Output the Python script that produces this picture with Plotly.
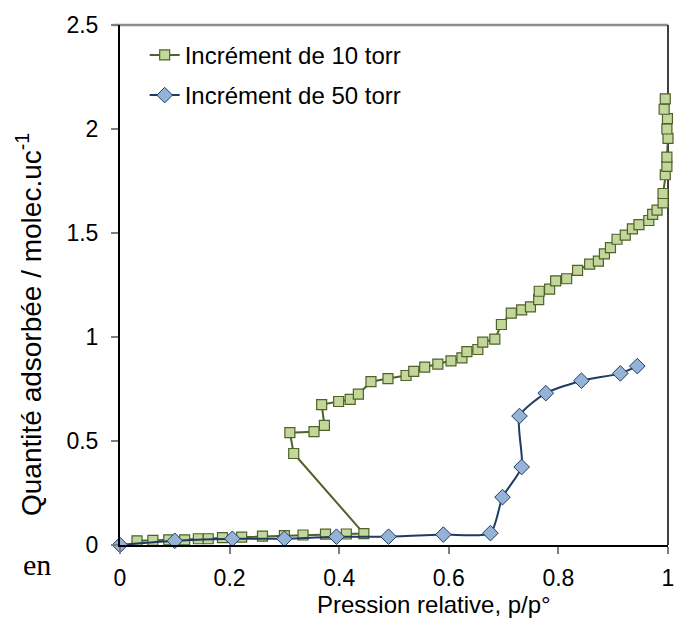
import plotly.graph_objects as go

# Isotherm measured with 10 torr pressure steps
p10 = [0.031, 0.060, 0.089, 0.118, 0.143, 0.161, 0.187, 0.222, 0.260, 0.300,
       0.334, 0.375, 0.413, 0.445, 0.317, 0.310, 0.354, 0.373, 0.368, 0.399,
       0.420, 0.435, 0.458, 0.489, 0.522, 0.536, 0.556, 0.580, 0.604, 0.624,
       0.633, 0.653, 0.662, 0.684, 0.696, 0.714, 0.733, 0.749, 0.764, 0.765,
       0.784, 0.795, 0.815, 0.835, 0.857, 0.873, 0.884, 0.895, 0.907, 0.922,
       0.935, 0.947, 0.965, 0.972, 0.980, 0.991, 0.991, 0.995, 0.998, 0.998,
       1.000, 0.998, 0.999, 0.993, 0.995]
q10 = [0.020, 0.022, 0.025, 0.025, 0.030, 0.030, 0.035, 0.038, 0.043, 0.045,
       0.048, 0.052, 0.053, 0.055, 0.440, 0.540, 0.545, 0.575, 0.675, 0.690,
       0.700, 0.725, 0.785, 0.800, 0.815, 0.835, 0.855, 0.870, 0.885, 0.900,
       0.930, 0.940, 0.975, 0.990, 1.060, 1.115, 1.130, 1.145, 1.180, 1.220,
       1.230, 1.270, 1.280, 1.320, 1.350, 1.365, 1.400, 1.430, 1.470, 1.490,
       1.520, 1.540, 1.560, 1.590, 1.610, 1.645, 1.690, 1.780, 1.820, 1.865,
       1.955, 2.000, 2.050, 2.095, 2.145]

# Isotherm measured with 50 torr pressure steps
p50 = [0.000, 0.100, 0.205, 0.300, 0.395, 0.490, 0.590, 0.676, 0.698, 0.733,
       0.729, 0.777, 0.842, 0.913, 0.944]
q50 = [0.000, 0.020, 0.030, 0.030, 0.040, 0.040, 0.050, 0.057, 0.230, 0.375,
       0.620, 0.730, 0.790, 0.825, 0.860]

x_ticks = [0, 0.2, 0.4, 0.6, 0.8, 1]
x_tick_labels = ["0", "0.2", "0.4", "0.6", "0.8", "1"]
y_ticks = [0, 0.5, 1, 1.5, 2, 2.5]
y_tick_labels = ["0", "0.5", "1", "1.5", "2", "2.5"]

x_title = "Pression relative, p/p°"
y_title = "Quantité adsorbée / molec.uc<sup>-1</sup>"

FONT = "Liberation Sans, Arial, sans-serif"
W, H = 674, 634
L, R, T, B = 120, 6, 25, 89
PW, PH = W - L - R, H - T - B


def px_x(px):
    """Horizontal pixel position -> paper coordinate."""
    return (px - L) / PW


def px_y(py):
    """Vertical pixel position (from top) -> paper coordinate."""
    return (H - B - py) / PH


fig = go.Figure()

fig.add_trace(go.Scatter(
    x=p10, y=q10, mode="lines+markers", name="Incrément de 10 torr",
    legendgroup="a",
    line=dict(color="#4F6228", width=2),
    marker=dict(symbol="square", size=10, color="#C3D69B",
                line=dict(color="#4F6228", width=1.2)),
    cliponaxis=False,
))

fig.add_trace(go.Scatter(
    x=p50, y=q50, mode="lines+markers", name="Incrément de 50 torr",
    legendgroup="b",
    line=dict(color="#1F3B63", width=2, shape="spline", smoothing=0.6),
    marker=dict(symbol="diamond", size=12, color="#95B3D7",
                line=dict(color="#1F3B63", width=1)),
    cliponaxis=False,
))

# Frame: gray top edge, dark right edge
fig.add_shape(type="line", xref="paper", yref="paper", x0=-0.013, x1=1, y0=1, y1=1,
              line=dict(color="#8C8C8C", width=2.5), layer="below")
fig.add_shape(type="line", xref="paper", yref="paper", x0=1, x1=1, y0=0, y1=1,
              line=dict(color="#404040", width=2), layer="below")

# Axis titles
fig.add_annotation(text=x_title, xref="paper", yref="paper",
                   x=px_x(434), y=px_y(604), xanchor="center", yanchor="middle",
                   showarrow=False, font=dict(family=FONT, size=24, color="black"))
fig.add_annotation(text=y_title, xref="paper", yref="paper", textangle=-90,
                   x=px_x(29), y=px_y(325), xanchor="center", yanchor="middle",
                   showarrow=False, font=dict(family=FONT, size=28, color="black"))

fig.add_annotation(text="en", xref="paper", yref="paper", x=px_x(37), y=px_y(564),
                   xanchor="center", yanchor="middle", showarrow=False,
                   font=dict(family="Liberation Serif, Times New Roman, serif",
                             size=30, color="black"))

fig.update_layout(
    width=W, height=H,
    margin=dict(l=L, r=R, t=T, b=B),
    paper_bgcolor="white", plot_bgcolor="white",
    font=dict(family=FONT, size=23, color="black"),
    showlegend=True,
    legend=dict(x=0.045, y=0.985, xanchor="left", yanchor="top",
                bgcolor="rgba(0,0,0,0)", tracegroupgap=6,
                font=dict(family=FONT, size=24, color="black")),
    xaxis=dict(range=[0, 1], tickvals=x_ticks, ticktext=x_tick_labels,
               showgrid=False, zeroline=False, showline=True, automargin=False,
               linecolor="black", linewidth=2, ticks="outside", ticklen=7,
               tickcolor="#7F7F7F", tickwidth=1.5, ticklabelstandoff=4,
               ticklabeloverflow="allow",
               tickfont=dict(family=FONT, size=23)),
    yaxis=dict(range=[0, 2.5], tickvals=y_ticks, ticktext=y_tick_labels,
               showgrid=False, zeroline=False, showline=True, automargin=False,
               linecolor="black", linewidth=2, ticks="outside", ticklen=7,
               tickcolor="#7F7F7F", tickwidth=1.5, ticklabelstandoff=8,
               ticklabeloverflow="allow",
               tickfont=dict(family=FONT, size=23)),
)

fig.write_html("out.html")
